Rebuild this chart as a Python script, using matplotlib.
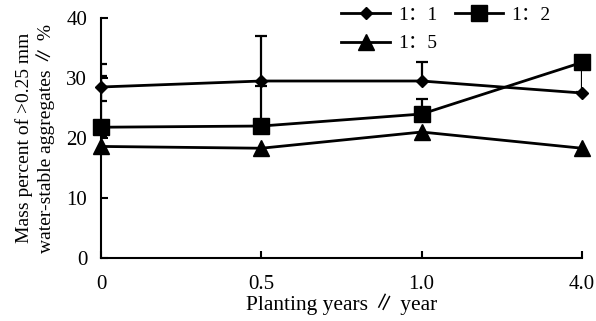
import numpy as np
import matplotlib
matplotlib.use("Agg")
import matplotlib.pyplot as plt

plt.rcParams['font.family'] = ['Liberation Serif', 'Noto Sans CJK SC', 'DejaVu Serif']

# data
years = ['0', '0.5', '1.0', '4.0']
names = ['1：1', '1：2', '1：5']
markers = ['D', 's', '^']
msizes = [6, 11, 11]

ratio_11 = [28.5, 29.5, 29.5, 27.5]
ratio_12 = [21.8, 22.0, 24.0, 32.6]
ratio_15 = [18.6, 18.3, 21.0, 18.3]

# error bars (lower, upper); 0 = not drawn
err_lo_11 = [2.3, 0, 0, 0]
err_up_11 = [3.9, 7.5, 3.1, 0]
err_lo_12 = [0, 0, 0, 5.0]
err_up_12 = [8.6, 6.6, 2.5, 0]
err_lo_15 = [0, 0, 0, 0]
err_up_15 = [1.6, 0, 0, 0]

series = [ratio_11, ratio_12, ratio_15]
lows = [err_lo_11, err_lo_12, err_lo_15]
ups = [err_up_11, err_up_12, err_up_15]

fig = plt.figure(figsize=(5.96, 3.21), dpi=100)
ax = fig.add_axes([0.1695, 0.196, 0.807, 0.748])
x = np.arange(len(years))

for y, lo, up in zip(series, lows, ups):
    y = np.array(y)
    lo = np.array(lo)
    up = np.array(up)
    for i in range(len(x)):
        if up[i] > 0:
            ax.vlines(x[i], y[i], y[i] + up[i], color='black', lw=1.6)
            ax.plot(x[i], y[i] + up[i], marker='_', ms=9, mew=1.6, color='black')
        if lo[i] > 0:
            ax.vlines(x[i], y[i] - lo[i], y[i], color='black', lw=1.6)
            ax.plot(x[i], y[i] - lo[i], marker='_', ms=9, mew=1.6, color='black')

handles = []
for y, name, m, ms in zip(series, names, markers, msizes):
    h, = ax.plot(x, y, color='black', lw=2.0, marker=m, ms=ms,
                 markerfacecolor='black', markeredgecolor='black',
                 label=name, clip_on=False, zorder=3)
    handles.append(h)

ax.set_xlim(0, 3)
ax.set_ylim(0, 40)
ax.set_xticks(x)
ax.set_xticklabels(years)
ax.set_yticks([0, 10, 20, 30, 40])
ax.tick_params(direction='in', length=5, width=1.5, labelsize=15)
ax.tick_params(axis='x', pad=12)
ax.tick_params(axis='y', pad=10)
for s in ['top', 'right']:
    ax.spines[s].set_visible(False)
for s in ['left', 'bottom']:
    ax.spines[s].set_linewidth(1.5)

ax.set_xlabel('Planting years ∥ year', fontsize=15.5, labelpad=0)
ax.set_ylabel('Mass percent of >0.25 mm\nwater-stable aggregates ∥ %',
              fontsize=14, labelpad=8, linespacing=1.2)

# row-wise order: 1:1, 1:2 on the first row, 1:5 below
ax.legend(handles=[handles[0], handles[2], handles[1]], ncol=2, frameon=False,
          fontsize=14, loc='upper right', bbox_to_anchor=(0.95, 1.08),
          handlelength=2.5, columnspacing=0.9, handletextpad=0.4,
          labelspacing=0.55, borderaxespad=0)

fig.savefig('out.png', dpi=100)
